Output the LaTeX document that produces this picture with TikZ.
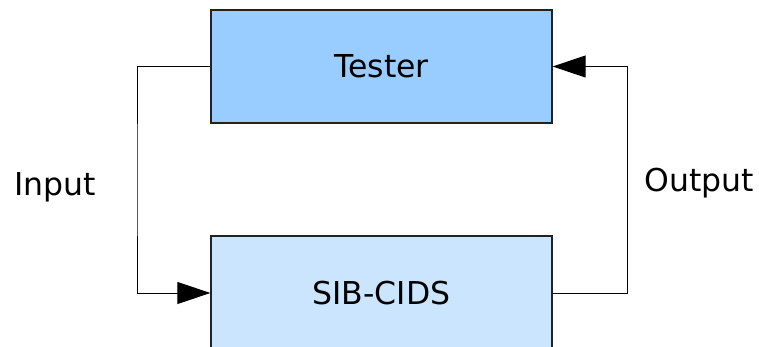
\documentclass[tikz,border=0pt]{standalone}
\usepackage{fontspec}
\setmainfont{DejaVu Sans}
\usetikzlibrary{arrows.meta}
\definecolor{testerfill}{HTML}{99CCFF}
\definecolor{sibfill}{HTML}{CCE5FF}
\definecolor{edge}{HTML}{222222}
\begin{document}
\begin{tikzpicture}[x=1pt,y=-1pt,
  block/.style={draw=edge,line width=1.3pt,minimum width=341pt,inner sep=0pt,
    font=\fontsize{31.5}{38}\selectfont},
  label/.style={font=\fontsize{31.5}{38}\selectfont,inner sep=0pt},
  wire/.style={line width=1pt,draw=black},
  tip/.style={-{Triangle[length=33pt,width=22pt]}}]
  \useasboundingbox (0,0) rectangle (759,347);
  \begin{scope}
    \clip (0,0) rectangle (759,347);
    % the two blocks; the lower one runs past the bottom edge
    \node[block,fill=testerfill,minimum height=113pt] (tester) at (381.5,66.5) {Tester};
    \node[block,fill=sibfill,minimum height=114pt] (sib) at (381.5,293) {SIB-CIDS};
    % turning points of the feedback loop
    \coordinate (lc) at (137,180);
    \coordinate (rc) at (627,180);
    \draw[wire,tip] (tester.west) -| (lc) |- (sib.west);
    \draw[wire,tip] (sib.east) -| (rc) |- (tester.east);
    \node[label] (input) at (55,187) {Input};
    \node[label] (output) at (699,183) {Output};
  \end{scope}
\end{tikzpicture}
\end{document}
